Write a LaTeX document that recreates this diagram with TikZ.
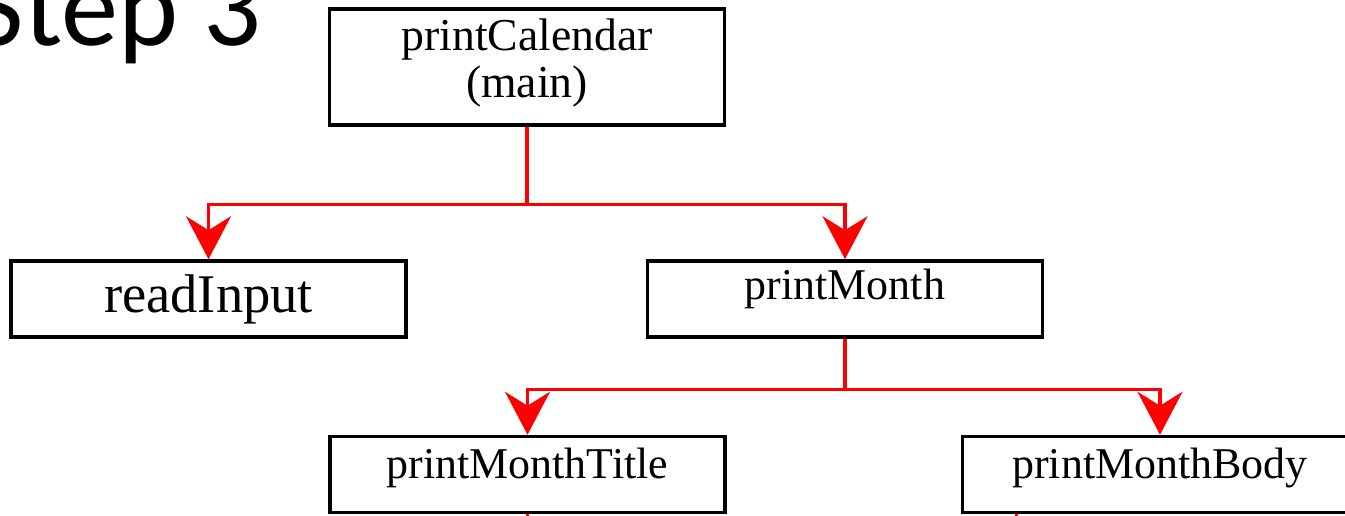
\documentclass[tikz,border=0pt]{standalone}
\usepackage{fontspec}
\setmainfont{Liberation Serif}
\newfontfamily\headfont{Carlito}
\usetikzlibrary{arrows.meta}

\begin{document}
\begin{tikzpicture}[x=0.02cm,y=-0.02cm,
    fn/.style={draw, line width=2pt, minimum width=7.9cm, minimum height=1.52cm,
      inner sep=0pt, text height=0.6cm, text depth=0.42cm,
      font=\fontsize{25}{30}\selectfont},
    call/.style={draw=red, line width=1.8pt},
    callarrow/.style={call, -{Stealth[length=0.86cm,width=0.9cm,inset=0.28cm]}}]
  \useasboundingbox (0,0) rectangle (1345,516);
  \clip (0,0) rectangle (1345,516);

  % Slide title (cut by the frame)
  \node[anchor=base east, inner sep=0pt, font=\headfont\fontsize{65}{70}\selectfont]
    (step) at (262,46) {Step 3};

  % Top level
  \node[fn, minimum height=2.32cm, align=center, text height=1.66cm,
    font=\fontsize{26}{27.3}\selectfont] (cal) at (527,67) {printCalendar\\(main)};

  % Second level
  \node[fn, text height=0.8cm, text depth=0.24cm,
    font=\fontsize{31}{36}\selectfont] (read) at (208.5,299) {readInput};
  \node[fn, text depth=0.56cm] (month) at (845,299) {printMonth};

  % Third level
  \node[fn] (mtitle) at (527.5,474.5) {printMonthTitle};
  \node[fn] (mbody) at (1160,474.5) {printMonthBody};

  % Calls
  \draw[callarrow] (cal.south) -- ++(0,78) -| (read.north);
  \draw[callarrow] (cal.south) -- ++(0,78) -| (month.north);

  \draw[callarrow] (month.south) -- ++(0,51) -| (mtitle.north);
  \draw[callarrow] (month.south) -- ++(0,51) -| (mbody.north);

  % Calls leaving the frame
  \draw[call] (mtitle.south) -- ++(0,10);
  \draw[call] (mbody.south west) ++(56,0) -- ++(0,10);
\end{tikzpicture}
\end{document}
